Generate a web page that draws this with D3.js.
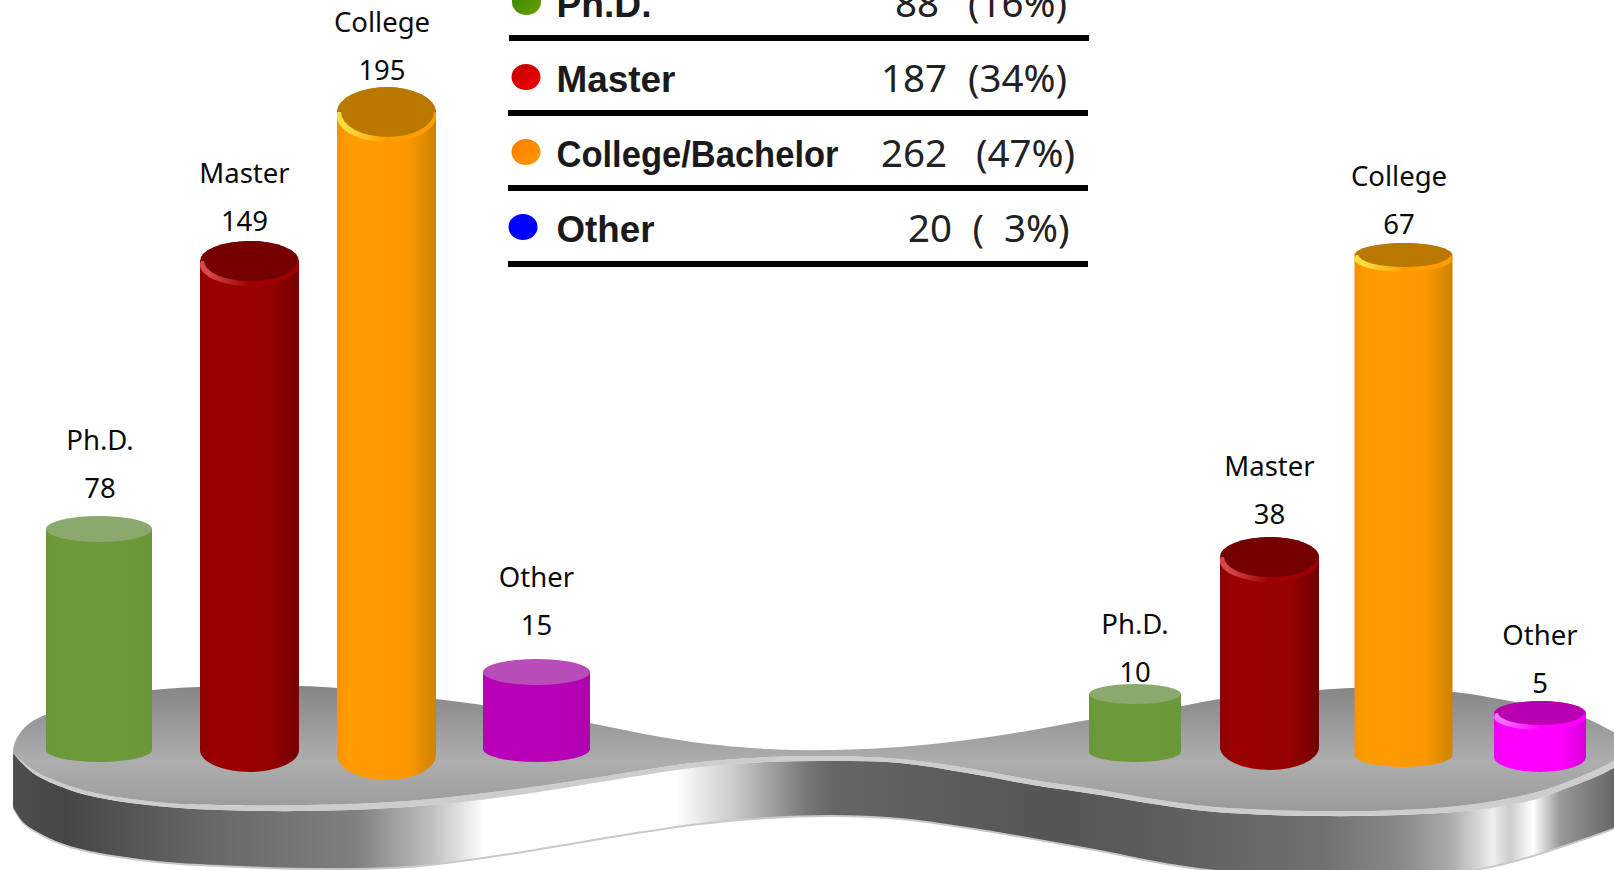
<!DOCTYPE html>
<html>
<head>
<meta charset="utf-8">
<script src="https://cdn.jsdelivr.net/npm/d3@7/dist/d3.min.js"></script>
<style>
html,body{margin:0;padding:0;background:#fff;overflow:hidden}
svg{display:block}
.name,.val{font-family:"Noto Sans",sans-serif;font-size:27.5px;fill:#0a0a0a;text-anchor:middle}
.lg{font-family:"Liberation Sans",Arial,sans-serif;font-weight:700;font-size:36px;fill:#1a1a1a}
.num{font-family:"Noto Sans",sans-serif;font-size:38.5px;fill:#222;white-space:pre}
</style>
</head>
<body>
<svg id="c" width="1614" height="870" viewBox="0 0 1614 870"></svg>
<script>
// ---- data ----
const categories = ["Ph.D.", "Master", "College", "Other"];
const leftValues = [78, 149, 195, 15];
const rightValues = [10, 38, 67, 5];
const legendLabels = ["Ph.D.", "Master", "College/Bachelor", "Other"];
const legendCounts = [88, 187, 262, 20];
const legendPercents = ["(16%)", "(34%)", "(47%)", "(  3%)"];

// ---- layout (the source illustration is not drawn to one linear scale) ----
const W = 1614, H = 870;
const svg = d3.select("#c");
const defs = svg.append("defs");

const panels = [
  { values: leftValues,
    h: d3.scaleLinear().domain([15, 78, 149, 195]).range([77, 221, 489, 643]),
    cx: d3.scaleOrdinal(categories, [99, 249.5, 386.5, 536.5]),
    w: d3.scaleOrdinal(categories, [106, 99, 99, 107]),
    base: d3.scaleOrdinal(categories, [750, 750, 755, 749]),
    ryTop: d3.scaleOrdinal(categories, [13, 20, 25, 13]),
    ryBot: d3.scaleOrdinal(categories, [12, 22, 25, 13]),
    gap: d3.scaleOrdinal(categories, [18, 10, 7, 24]),
    dx: d3.scaleOrdinal(categories, [1, -5, -4.5, 0]),
    style: d3.scaleOrdinal(categories, ["green", "red", "orange", "purple"]) },
  { values: rightValues,
    h: d3.scaleLinear().domain([5, 10, 38, 67]).range([44, 58, 190, 500]),
    cx: d3.scaleOrdinal(categories, [1135, 1269.5, 1403.5, 1540]),
    w: d3.scaleOrdinal(categories, [92, 99, 98, 92]),
    base: d3.scaleOrdinal(categories, [752, 747, 755, 757]),
    ryTop: d3.scaleOrdinal(categories, [10, 20, 12, 12]),
    ryBot: d3.scaleOrdinal(categories, [10, 23, 12, 15]),
    gap: d3.scaleOrdinal(categories, [2, 13, 9, 8]),
    dx: d3.scaleOrdinal(categories, [0, 0, -4.5, 0]),
    style: d3.scaleOrdinal(categories, ["green", "red", "orange", "magenta"]) }
];

const styles = {
  green:   { body: ["#69983a", "#6c9a3a", "#6c9a3a", "#6a9838"], top: "#8ba96c", crescent: null },
  red:     { body: ["#8c0000", "#9c0000", "#960000", "#720000"], top: "#740000", crescent: "#d84848" },
  orange:  { body: ["#f59400", "#ff9c00", "#fb9800", "#cf8200"], top: "#b97800", crescent: "#ffe040" },
  purple:  { body: ["#b800b8", "#b800b8", "#b800b8", "#b000b0"], top: "#b84cb8", crescent: null },
  magenta: { body: ["#f000f0", "#ff00ff", "#ff00ff", "#d800d8"], top: "#b800b0", crescent: "#ff70ff" }
};
Object.entries(styles).forEach(([k, s]) => {
  const g = defs.append("linearGradient").attr("id", "b-" + k);
  [0, .12, .72, 1].forEach((o, i) => g.append("stop").attr("offset", o).attr("stop-color", s.body[i]));
  if (s.crescent) {
    const c = defs.append("linearGradient").attr("id", "c-" + k);
    c.append("stop").attr("offset", .08).attr("stop-color", s.crescent);
    c.append("stop").attr("offset", .5).attr("stop-color", s.body[1]);
  }
});

// ---- platform ----
const smooth = d3.line().curve(d3.curveCatmullRom.alpha(.5));
const backEdge = [[13,753],[14,745],[20,733],[30,723],[45,715],[100,697],[153,690],[199,687],[301,686],[337,688],[436,699],[482,705],[589,723],[650,735],[700,743],[767,749],[833,750],[900,747],[967,740],[1033,730],[1088,720],[1182,706],[1220,699],[1319,690],[1355,688],[1453,692],[1493,698],[1585,718],[1630,742]];
const frontEdge = [[13,753],[33,770],[67,785],[100,794],[167,803],[220,805],[306,805],[408,801],[510,790],[600,777],[650,769],[700,762],[767,757],[833,756],[900,759],[967,768],[1033,780],[1100,790],[1160,800],[1215,807],[1319,811],[1400,810],[1467,805],[1533,793],[1567,782],[1600,768],[1630,752]];
const rimLower = [[13,753],[33,773],[67,789],[100,798],[167,807],[220,810],[306,811],[408,807],[510,796],[600,782],[650,774],[700,767],[767,762],[833,761],[900,763],[967,773],[1033,785],[1100,795],[1160,805],[1215,812],[1319,816],[1400,815],[1467,811],[1533,800],[1567,788],[1600,775],[1630,759]];
const sideBottom = [[13,807],[23,822],[43,835],[67,845],[100,853],[167,862],[220,865],[306,868],[408,866],[510,853],[600,838],[650,830],[700,823],[767,817],[833,815],[900,818],[967,827],[1033,838],[1100,850],[1160,862],[1215,870],[1319,878],[1400,876],[1467,870],[1500,864],[1533,855],[1567,844],[1613,828],[1630,820]];

const closed = (a, b) => smooth(a) + "L" + smooth(b.slice().reverse()).slice(1) + "Z";

const sideStops = [[13,"#4e4e4e"],[66,"#464646"],[204,"#666"],[357,"#808080"],[430,"#bdbdbd"],[485,"#fff"],[675,"#fff"],[733,"#ccc"],[807,"#777"],[833,"#666"],[950,"#5c5c5c"],[1050,"#555"],[1150,"#5c5c5c"],[1319,"#707070"],[1400,"#888"],[1450,"#aaa"],[1493,"#eee"],[1510,"#ccc"],[1533,"#fff"],[1560,"#999"],[1614,"#666"]];
const sideGrad = defs.append("linearGradient").attr("id", "side").attr("gradientUnits", "userSpaceOnUse")
  .attr("x1", 0).attr("x2", W).attr("y1", 0).attr("y2", 0);
sideStops.forEach(([x, c]) => sideGrad.append("stop").attr("offset", x / W).attr("stop-color", c));
const topGrad = defs.append("linearGradient").attr("id", "topf").attr("gradientUnits", "userSpaceOnUse")
  .attr("x1", 0).attr("x2", 0).attr("y1", 686).attr("y2", 812);
[[0,"#858585"],[.6,"#aeaeae"],[1,"#9a9a9a"]].forEach(([o, c]) => topGrad.append("stop").attr("offset", o).attr("stop-color", c));

const plat = svg.append("g");
plat.append("path").attr("d", closed(sideBottom.map(([x, y]) => [x, y + 2]), rimLower)).attr("fill", "#c8c8c8");
plat.append("path").attr("d", closed(rimLower, sideBottom)).attr("fill", "url(#side)");
plat.append("path").attr("d", closed(frontEdge, rimLower)).attr("fill", "#cdcdcd");
plat.append("path").attr("d", closed(backEdge, frontEdge)).attr("fill", "url(#topf)");

// ---- cylinders ----
panels.forEach(p => {
  const items = categories.map((c, i) => ({ c, v: p.values[i] }));
  const g = svg.append("g").selectAll("g").data(items).join("g");
  g.each(function (d) {
    const s = d3.select(this), st = p.style(d.c), S = styles[st];
    const cx = p.cx(d.c), r = p.w(d.c) / 2, base = p.base(d.c), top = base - p.h(d.v);
    const ryT = p.ryTop(d.c), ryB = p.ryBot(d.c);
    s.append("path")
      .attr("d", `M${cx - r},${top}L${cx - r},${base}A${r},${ryB} 0 0 0 ${cx + r},${base}L${cx + r},${top}Z`)
      .attr("fill", `url(#b-${st})`);
    if (S.crescent) {
      s.append("ellipse").attr("cx", cx).attr("cy", top + 4).attr("rx", r).attr("ry", ryT + 1)
        .attr("fill", `url(#c-${st})`);
      s.append("ellipse").attr("cx", cx + 1).attr("cy", top).attr("rx", r - 3).attr("ry", ryT)
        .attr("fill", S.top);
      s.append("path")
        .attr("d", `M${cx - r},${top}A${r},${ryT} 0 0 1 ${cx + r},${top}Z`).attr("fill", S.top);
    } else {
      s.append("ellipse").attr("cx", cx).attr("cy", top).attr("rx", r).attr("ry", ryT).attr("fill", S.top);
    }
    const valY = top - ryT - p.gap(d.c);
    s.append("text").attr("class", "val").attr("x", cx + p.dx(d.c)).attr("y", valY).text(d.v);
    s.append("text").attr("class", "name").attr("x", cx + p.dx(d.c)).attr("y", valY - 48).text(d.c);
  });
});

// ---- legend table ----
const rowY = d3.scalePoint().domain(legendLabels).range([17, 242]);
const ruleOffset = d3.scaleOrdinal(legendLabels, [18, 18, 18, 19]);
const dotGrads = [["#2c8600", "#6ea000"], ["#c00000", "#f40000"], ["#ff7800", "#ff9c00"], ["#0000ff", "#0000ff"]];
dotGrads.forEach((c, i) => {
  const g = defs.append("linearGradient").attr("id", "dot" + i).attr("x1", 0).attr("y1", 0).attr("x2", 1).attr("y2", 1);
  g.append("stop").attr("offset", 0).attr("stop-color", c[0]);
  g.append("stop").attr("offset", 1).attr("stop-color", c[1]);
});
const dotX = d3.scaleOrdinal(legendLabels, [526.5, 526, 526, 523]);
const countX = d3.scaleOrdinal(legendLabels, [895, 881, 881, 908]);
const pctX = d3.scaleOrdinal(legendLabels, [968, 968, 976, 972.5]);
const labelLen = d3.scaleOrdinal(legendLabels, [95, 119, 282, 98]);
const leg = svg.append("g").selectAll("g").data(legendLabels).join("g");
leg.append("rect").attr("x", (d, i) => i ? 508 : 509).attr("width", 580).attr("height", 6)
  .attr("y", d => rowY(d) + ruleOffset(d)).attr("fill", "#000");
leg.append("ellipse").attr("cx", d => dotX(d)).attr("cy", d => rowY(d) - 15).attr("rx", 14.5).attr("ry", 13)
  .attr("fill", (d, i) => `url(#dot${i})`);
leg.append("text").attr("class", "lg").attr("x", 556.5).attr("y", d => rowY(d))
  .attr("textLength", d => labelLen(d)).attr("lengthAdjust", "spacingAndGlyphs").text(d => d);
leg.append("text").attr("class", "num").attr("x", d => countX(d)).attr("y", d => rowY(d))
  .text((d, i) => legendCounts[i]);
leg.append("text").attr("class", "num").attr("x", d => pctX(d)).attr("y", d => rowY(d))
  .attr("xml:space", "preserve").text((d, i) => legendPercents[i]);
</script>
</body>
</html>
